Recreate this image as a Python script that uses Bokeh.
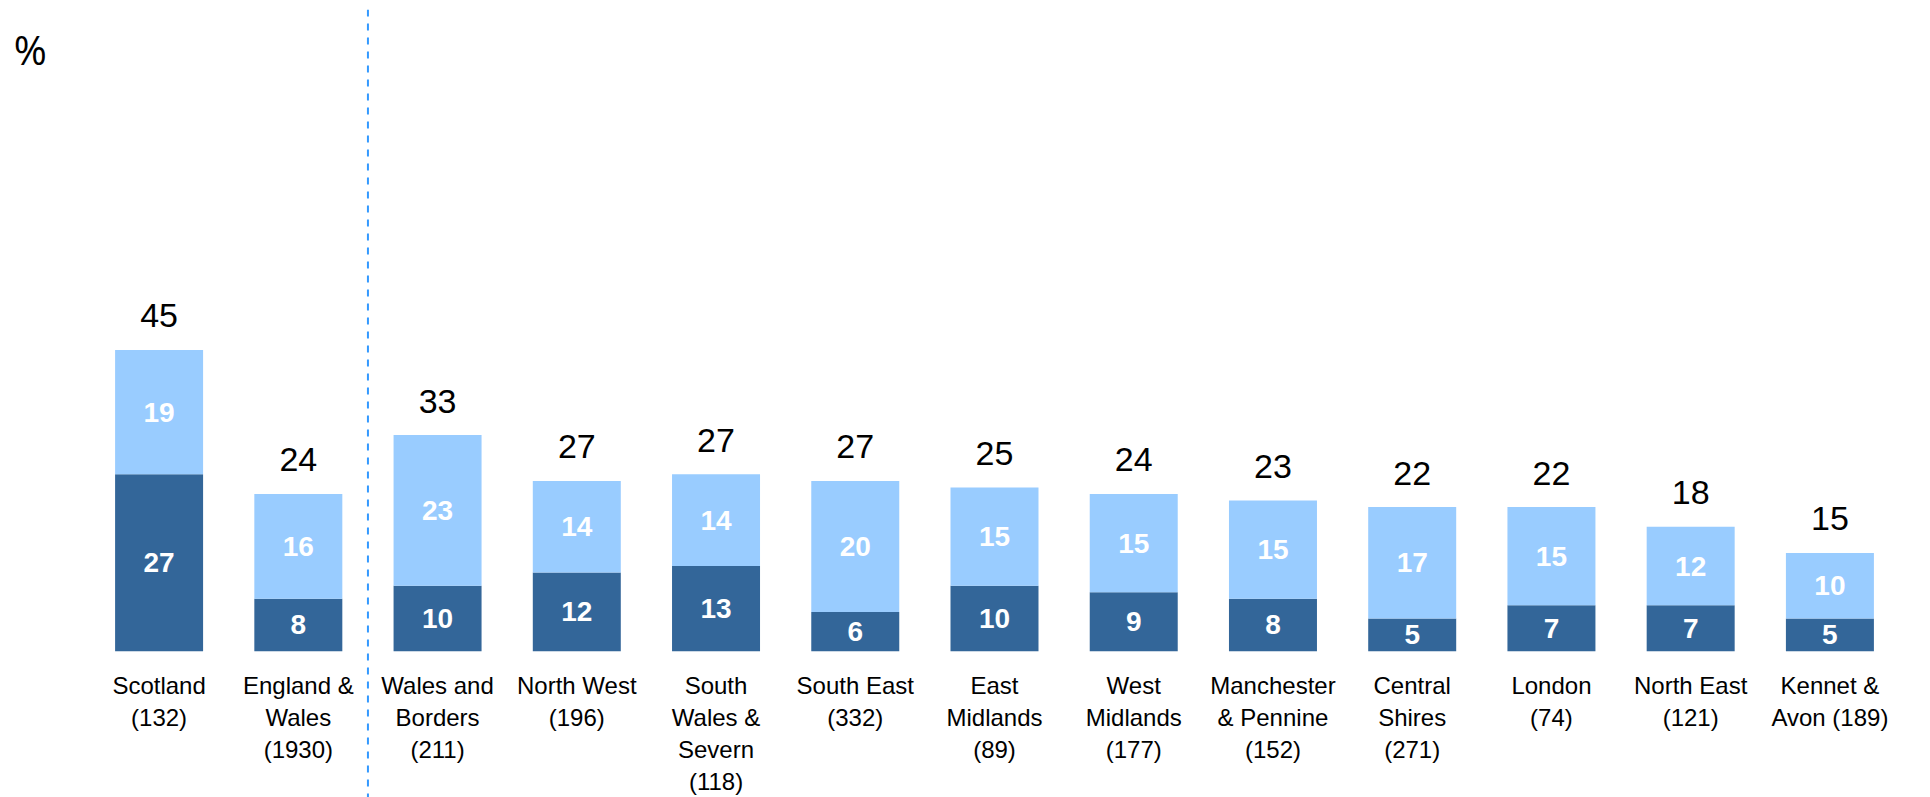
from bokeh.plotting import figure
from bokeh.layouts import row
from bokeh.models import ColumnDataSource, FactorRange, Range1d, Span
from bokeh.core.properties import value
from bokeh.embed import file_html
from bokeh.resources import INLINE

regions = ["Scotland", "England & Wales", "Wales and Borders", "North West",
           "South Wales & Severn", "South East", "East Midlands", "West Midlands",
           "Manchester & Pennine", "Central Shires", "London", "North East",
           "Kennet & Avon"]
axis_labels = ["Scotland\n(132)", "England &\nWales\n(1930)", "Wales and\nBorders\n(211)",
               "North West\n(196)", "South\nWales &\nSevern\n(118)", "South East\n(332)",
               "East\nMidlands\n(89)", "West\nMidlands\n(177)", "Manchester\n& Pennine\n(152)",
               "Central\nShires\n(271)", "London\n(74)", "North East\n(121)",
               "Kennet &\nAvon (189)"]
dark_vals = [27, 8, 10, 12, 13, 6, 10, 9, 8, 5, 7, 7, 5]
light_vals = [19, 16, 23, 14, 14, 20, 15, 15, 15, 17, 15, 12, 10]
totals = [45, 24, 33, 27, 27, 27, 25, 24, 23, 22, 22, 18, 15]
unit_label = "%"

DARK = "#336699"
LIGHT = "#99CCFF"
FONT = "Liberation Sans"

stack_top = [d + l for d, l in zip(dark_vals, light_vals)]
src = ColumnDataSource(dict(
    x=regions,
    dark=dark_vals,
    light=light_vals,
    top=stack_top,
    dark_mid=[d / 2 for d in dark_vals],
    light_mid=[d + l / 2 for d, l in zip(dark_vals, light_vals)],
    dark_txt=[str(v) for v in dark_vals],
    light_txt=[str(v) for v in light_vals],
    total_txt=[str(v) for v in totals],
    label=axis_labels,
    zero=[0] * len(regions),
))

y_range = Range1d(-22.34, 97.97)

# narrow left panel that carries the unit label
pl = figure(x_range=Range1d(0, 1), y_range=y_range, width=66, height=797,
            output_backend="svg", toolbar_location=None,
            min_border_left=0, min_border_right=0, min_border_top=9, min_border_bottom=0)
pl.axis.visible = False
pl.grid.visible = False
pl.outline_line_color = None
pl.text(x=[0.2], y=[91.8], text=[unit_label], text_font=value("Open Sans"),
        text_font_size="40px", text_color="black", text_baseline="alphabetic",
        text_align="left")

x_range = FactorRange(factors=regions, range_padding=0.165, range_padding_units="absolute")
p = figure(x_range=x_range, y_range=y_range, width=1864, height=797,
           output_backend="svg", toolbar_location=None,
           min_border_left=0, min_border_right=8, min_border_top=9, min_border_bottom=0)
p.axis.visible = False
p.grid.visible = False
p.outline_line_color = None
p.background_fill_color = "white"

p.vbar(x="x", bottom=0, top="dark", width=0.632, source=src, fill_color=DARK, line_color=None)
p.vbar(x="x", bottom="dark", top="top", width=0.632, source=src, fill_color=LIGHT, line_color=None)

p.text(x="x", y="dark_mid", text="dark_txt", source=src, text_color="white",
       text_font=value(FONT), text_font_style="bold", text_font_size="28px",
       text_align="center", text_baseline="middle")
p.text(x="x", y="light_mid", text="light_txt", source=src, text_color="white",
       text_font=value(FONT), text_font_style="bold", text_font_size="28px",
       text_align="center", text_baseline="middle")
p.text(x="x", y="top", text="total_txt", source=src, text_color="black",
       text_font=value(FONT), text_font_size="34px",
       text_align="center", text_baseline="alphabetic", y_offset=-34)
p.text(x="x", y="zero", text="label", source=src, text_color="black",
       text_font=value(FONT), text_font_size="24px", text_line_height=1.18,
       text_align="center", text_baseline="top", y_offset=21)

p.add_layout(Span(location=2, dimension="height", line_color="#3399FF",
                  line_width=2, line_dash="7 7"))

layout = row(pl, p, spacing=0)
open("out.html", "w").write(file_html(layout, INLINE))
